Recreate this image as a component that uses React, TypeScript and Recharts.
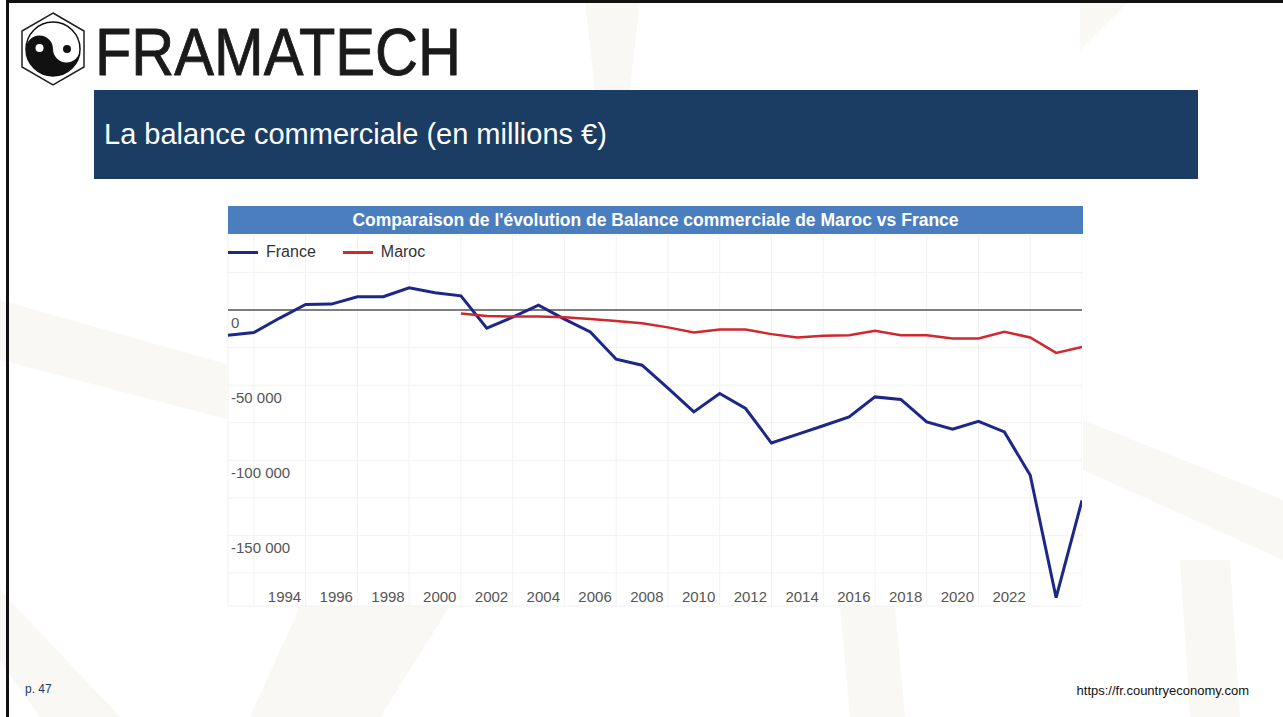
import { LineChart, Line, XAxis, YAxis, CartesianGrid, ReferenceLine, Legend } from "recharts";

// Balance commerciale, millions €
const years = [
  1990, 1991, 1992, 1993, 1994, 1995, 1996, 1997, 1998, 1999,
  2000, 2001, 2002, 2003, 2004, 2005, 2006, 2007, 2008, 2009,
  2010, 2011, 2012, 2013, 2014, 2015, 2016, 2017, 2018, 2019,
  2020, 2021, 2022, 2023,
];
const france = [
  -16700, -14900, -5300, 3800, 4000, 8900, 8900, 14900, 11500, 9500,
  -12000, -4700, 3300, -6000, -14500, -32700, -36700, -52000, -67800, -55500,
  -65500, -88500, -82700, -77000, -71100, -57800, -59500, -74500, -79300, -74000,
  -81100, -110000, -191500, -126700,
];
const maroc = [
  null, null, null, null, null, null, null, null, null, -2200,
  -4000, -4300, -4300, -4700, -6000, -7300, -8700, -11500, -14900, -12900,
  -12900, -16000, -18200, -17100, -16700, -13800, -16700, -16700, -18900, -18900,
  -14500, -18200, -28500, -24500,
];

const yearLabels = [1994, 1996, 1998, 2000, 2002, 2004, 2006, 2008, 2010, 2012, 2014, 2016, 2018, 2020, 2022];
const gridYears = [1991, 1993, 1995, 1997, 1999, 2001, 2003, 2005, 2007, 2009, 2011, 2013, 2015, 2017, 2019, 2021, 2023];
const valueTicks = [50000, 25000, 0, -25000, -50000, -75000, -100000, -125000, -150000, -175000];
const labelledValues = [0, -50000, -100000, -150000];

const data = years.map((year, i) => ({ year, France: france[i], Maroc: maroc[i] }));

const FONT = '"Liberation Sans", Arial, sans-serif';
const BLUE = "#1c2788";
const RED = "#d0282e";

function fmt(n: number) {
  const s = String(Math.abs(n)).replace(/\B(?=(\d{3})+(?!\d))/g, " ");
  return n < 0 ? "-" + s : s;
}

const XTick = (props: any) => {
  const { x, payload } = props;
  return (
    <text x={x - 47} y={367} textAnchor="middle" fill="#555" fontSize={15} fontFamily={FONT}>
      {payload.value}
    </text>
  );
};

const YTick = (props: any) => {
  const { y, payload } = props;
  if (!labelledValues.includes(payload.value)) return <g />;
  return (
    <text x={4} y={y + 18} textAnchor="start" fill="#555" fontSize={15} fontFamily={FONT}>
      {fmt(payload.value)}
    </text>
  );
};

const LegendContent = (props: any) => (
  <div style={{ display: "flex", alignItems: "center", fontFamily: FONT, fontSize: 16, color: "#333" }}>
    {(props.payload || []).map((p: any) => (
      <span key={p.value} style={{ display: "flex", alignItems: "center", marginRight: 27 }}>
        <span style={{ display: "inline-block", width: 30, height: 3, background: p.color, marginRight: 8 }} />
        {p.value}
      </span>
    ))}
  </div>
);

const shapes = [
  "0,300 230,365 230,420 0,360",
  "0,590 120,717 40,717 0,660",
  "250,717 300,606 450,606 380,717",
  "1083,420 1283,500 1283,560 1083,470",
  "1180,560 1230,560 1240,717 1190,717",
  "840,606 895,606 905,717 850,717",
  "1080,0 1130,0 1080,50",
  "585,0 640,0 630,90 595,90",
];

export default function App() {
  return (
    <div
      style={{
        position: "absolute",
        left: 0,
        top: 0,
        width: 1283,
        height: 717,
        background: "#fff",
        overflow: "hidden",
        fontFamily: FONT,
      }}
    >
      <svg width={1283} height={717} style={{ position: "absolute", left: 0, top: 0 }}>
        {shapes.map((pts, i) => (
          <polygon key={i} points={pts} fill="#f9f8f4" />
        ))}
      </svg>

      {/* frame */}
      <div style={{ position: "absolute", left: 6, top: 0, width: 3, height: 717, background: "#111" }} />
      <div style={{ position: "absolute", left: 6, top: 0, width: 1277, height: 3, background: "#111" }} />

      {/* logo */}
      <svg width={640} height={90} style={{ position: "absolute", left: 0, top: 0 }}>
        <polygon points="53,13 84,31 84,67 53,85 22,67 22,31" fill="#fff" stroke="#222" strokeWidth={1.5} />
        <circle cx={53} cy={49} r={27} fill="#fff" stroke="#111" strokeWidth={1.5} />
        <path d="M26,49 A27,27 0 0 0 80,49 A13.5,13.5 0 0 1 53,49 A13.5,13.5 0 0 0 26,49 Z" fill="#111" />
        <circle cx={39.5} cy={48} r={4} fill="#fff" />
        <circle cx={67} cy={49} r={4} fill="#111" />
        <text
          x={95}
          y={75}
          fontSize={67}
          fontFamily={FONT}
          fill="#1a1a1a"
          stroke="#1a1a1a"
          strokeWidth={0.9}
          textLength={366}
          lengthAdjust="spacingAndGlyphs"
        >
          FRAMATECH
        </text>
      </svg>

      {/* title bar */}
      <div
        style={{
          position: "absolute",
          left: 94,
          top: 90,
          width: 1104,
          height: 89,
          background: "#1b3d63",
          color: "#fff",
          fontSize: 29,
          lineHeight: "89px",
          paddingLeft: 10,
          boxSizing: "border-box",
        }}
      >
        La balance commerciale (en millions €)
      </div>

      {/* chart */}
      <div style={{ position: "absolute", left: 227, top: 206, width: 856, height: 400, background: "#fff" }}>
        <div
          style={{
            marginLeft: 1,
            height: 28,
            background: "#4a7ebf",
            color: "#fff",
            fontWeight: "bold",
            fontSize: 17.5,
            lineHeight: "28px",
            textAlign: "center",
          }}
        >
          Comparaison de l'évolution de Balance commerciale de Maroc vs France
        </div>
        <div style={{ position: "absolute", left: 0, top: 29 }}>
          <LineChart width={855} height={373} data={data} margin={{ top: 0, right: 0, bottom: 0, left: 0 }}>
            <CartesianGrid xAxisId="grid" stroke="#f2f2f2" strokeWidth={1} />
            <XAxis
              xAxisId="grid"
              dataKey="year"
              type="number"
              domain={[1990, 2023]}
              ticks={gridYears}
              interval={0}
              height={1}
              axisLine={false}
              tickLine={false}
              tick={() => <g />}
            />
            <XAxis
              dataKey="year"
              type="number"
              domain={[1990, 2023]}
              ticks={yearLabels}
              interval={0}
              height={1}
              axisLine={false}
              tickLine={false}
              tick={<XTick />}
            />
            <YAxis
              type="number"
              domain={[-197000, 50000]}
              ticks={valueTicks}
              interval={0}
              width={1}
              axisLine={false}
              tickLine={false}
              allowDataOverflow
              tick={<YTick />}
            />
            <ReferenceLine y={0} stroke="#555" strokeWidth={1.5} />
            <Legend
              verticalAlign="middle"
              layout="horizontal"
              content={<LegendContent />}
              wrapperStyle={{ top: 8, left: 1, width: "auto" }}
            />
            <Line
              dataKey="France"
              name="France"
              stroke={BLUE}
              strokeWidth={3}
              dot={false}
              isAnimationActive={false}
            />
            <Line
              dataKey="Maroc"
              name="Maroc"
              stroke={RED}
              strokeWidth={2.5}
              dot={false}
              isAnimationActive={false}
            />
          </LineChart>
        </div>
      </div>

      {/* footer */}
      <div style={{ position: "absolute", left: 25, top: 682, fontSize: 12, color: "#1f3864" }}>p. 47</div>
      <div style={{ position: "absolute", right: 34, top: 683, fontSize: 13, color: "#111" }}>
        https://fr.countryeconomy.com
      </div>
    </div>
  );
}
